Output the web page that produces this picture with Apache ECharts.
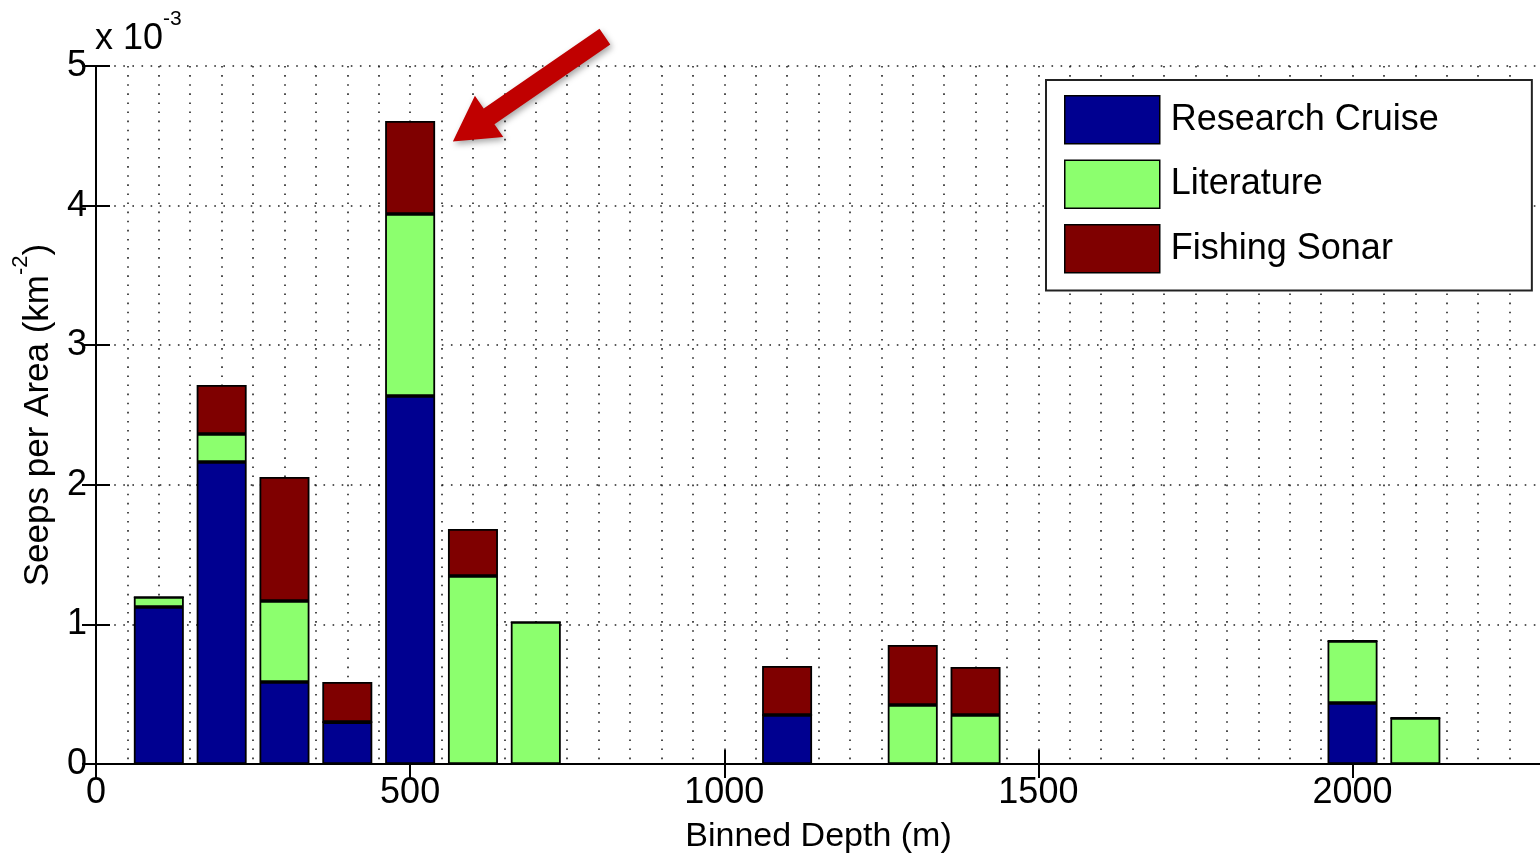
<!DOCTYPE html>
<html>
<head>
<meta charset="utf-8">
<script src="https://cdn.jsdelivr.net/npm/echarts@6/dist/echarts.min.js"></script>
<style>
html,body{margin:0;padding:0;background:#fff;}
#chart{width:1540px;height:855px;}
</style>
</head>
<body>
<div id="chart"></div>
<script>
// Binned depth (m) – bar centres
const depths = [100, 200, 300, 400, 500, 600, 700, 1100, 1300, 1400, 2000, 2100];
// Seeps per area (km^-2), in units of 1e-3
const researchCruise = [1.125, 2.163, 0.587, 0.300, 2.636, 0, 0, 0.351, 0, 0, 0.437, 0];
const literature     = [0.071, 0.201, 0.581, 0, 1.304, 1.347, 1.017, 0, 0.423, 0.351, 0.444, 0.330];
const fishingSonar   = [0, 0.351, 0.888, 0.287, 0.666, 0.336, 0, 0.351, 0.429, 0.344, 0, 0];
const seriesNames = ['Research Cruise', 'Literature', 'Fishing Sonar'];
const xTickStep = 500, xGridStep = 50, xMax = 2300;
const yMax = 5, yStep = 1;

const FONT = 'Liberation Sans, Arial, sans-serif';
const colors = ['#000090', '#8cff6e', '#7f0000'];
const dotted = {color: '#222', width: 1.6, type: [1.6, 7.5]};
const axisLine = {show: true, lineStyle: {color: '#000', width: 2}};

const chart = echarts.init(document.getElementById('chart'), null, {renderer: 'canvas'});

function mk(name, vals, idx) {
  return {
    name: name, type: 'bar', stack: 'total', xAxisIndex: 0, yAxisIndex: 0,
    barWidth: 50,
    dimensions: [{name: 'seeps', type: 'float'}, {name: 'depth', type: 'float'}],
    encode: {x: 'depth', y: 'seeps'},
    itemStyle: {color: colors[idx], borderColor: '#000', borderWidth: 1.8},
    data: depths.map((d, i) => [vals[i], d]),
    emphasis: {disabled: true}
  };
}

chart.setOption({
  animation: false,
  backgroundColor: '#fff',
  grid: {left: 96, top: 66, width: 1445, height: 698, containLabel: false, outerBoundsMode: 'none'},
  legend: {
    data: seriesNames, orient: 'vertical', left: 1046, top: 80,
    itemWidth: 95, itemHeight: 48, itemGap: 15,
    padding: [15, 93, 17, 18],
    borderColor: '#222', borderWidth: 2, backgroundColor: '#fff',
    icon: 'rect',
    itemStyle: {borderColor: '#000', borderWidth: 1.5},
    textStyle: {fontSize: 36, color: '#000', fontFamily: FONT, padding: [0, 0, 0, 6]},
    selectedMode: false
  },
  xAxis: [
    {
      type: 'value', position: 'bottom', min: 0, max: xMax, interval: xTickStep,
      axisLine: axisLine,
      axisTick: {show: true, inside: true, length: 14, lineStyle: {color: '#000', width: 2}},
      axisLabel: {fontSize: 36, color: '#000', fontFamily: FONT, margin: 11, showMaxLabel: false,
                  formatter: v => String(v)},
      splitLine: {show: false},
      name: 'Binned Depth (m)', nameLocation: 'middle', nameGap: 56,
      nameTextStyle: {fontSize: 34, color: '#000', fontFamily: FONT}
    },
    {
      type: 'value', position: 'top', min: 0, max: xMax, interval: xTickStep,
      axisLine: axisLine,
      axisTick: {show: true, inside: true, length: 14, lineStyle: {color: '#000', width: 2}},
      axisLabel: {show: false}, splitLine: {show: false}
    },
    {
      type: 'value', position: 'bottom', min: 0, max: xMax, interval: xGridStep,
      axisLine: {show: false}, axisTick: {show: false}, axisLabel: {show: false},
      splitLine: {show: true, lineStyle: dotted}
    }
  ],
  yAxis: [
    {
      type: 'value', position: 'left', min: 0, max: yMax, interval: yStep,
      axisLine: axisLine,
      axisTick: {show: true, inside: true, length: 14, lineStyle: {color: '#000', width: 2}},
      axisLabel: {fontSize: 36, color: '#000', fontFamily: FONT, margin: 9},
      splitLine: {show: true, lineStyle: dotted},
      name: '{n|Seeps per Area (km}{s|-2}{n|)}', nameLocation: 'middle', nameGap: 40,
      nameTextStyle: {
        color: '#000', fontFamily: FONT, fontSize: 35,
        rich: {
          n: {fontSize: 35, fontFamily: FONT, color: '#000', lineHeight: 46, verticalAlign: 'bottom'},
          s: {fontSize: 22, fontFamily: FONT, color: '#000', lineHeight: 46, verticalAlign: 'top'}
        }
      }
    },
    {
      type: 'value', position: 'right', min: 0, max: yMax, interval: yStep,
      axisLine: axisLine,
      axisTick: {show: true, inside: true, length: 14, lineStyle: {color: '#000', width: 2}},
      axisLabel: {show: false}, splitLine: {show: false}
    }
  ],
  series: [
    mk(seriesNames[0], researchCruise, 0),
    mk(seriesNames[1], literature, 1),
    mk(seriesNames[2], fishingSonar, 2)
  ]
});

// annotation arrow, anchored in data coordinates
const arrowTipData = [568, 4.46];
const arrowTailData = [810, 5.21];
const tip = chart.convertToPixel({xAxisIndex: 0, yAxisIndex: 0}, arrowTipData);
const tail = chart.convertToPixel({xAxisIndex: 0, yAxisIndex: 0}, arrowTailData);
const dx = tip[0] - tail[0], dy = tip[1] - tail[1];
const L = Math.sqrt(dx * dx + dy * dy);
const ux = dx / L, uy = dy / L, px = -uy, py = ux;
const headLen = 44, headHalf = 25, shaftHalf = 9.5;
const bx = tip[0] - ux * headLen, by = tip[1] - uy * headLen;
const pts = [
  [tail[0] + px * shaftHalf, tail[1] + py * shaftHalf],
  [bx + px * shaftHalf, by + py * shaftHalf],
  [bx + px * headHalf, by + py * headHalf],
  [tip[0], tip[1]],
  [bx - px * headHalf, by - py * headHalf],
  [bx - px * shaftHalf, by - py * shaftHalf],
  [tail[0] - px * shaftHalf, tail[1] - py * shaftHalf]
];

chart.setOption({
  graphic: [
    {
      type: 'polygon', z: 100,
      shape: {points: pts},
      style: {fill: '#c00000', shadowBlur: 6, shadowColor: 'rgba(0,0,0,0.35)', shadowOffsetX: 2, shadowOffsetY: 3}
    },
    {
      type: 'text', left: 95, top: 21, z: 100,
      style: {text: 'x 10', fontSize: 36, fontFamily: FONT, fill: '#000'}
    },
    {
      type: 'text', left: 163, top: 9, z: 100,
      style: {text: '-3', fontSize: 21, fontFamily: FONT, fill: '#000'}
    }
  ]
});
</script>
</body>
</html>
